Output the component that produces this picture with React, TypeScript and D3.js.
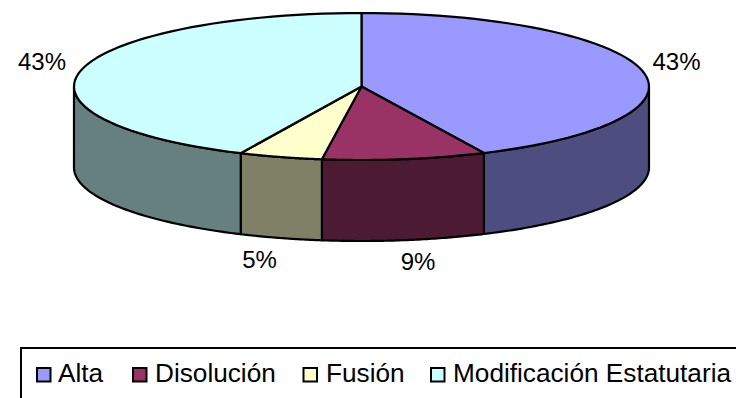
import React from "react";
import * as d3 from "d3";

const categories = ["Alta", "Disolución", "Fusión", "Modificación Estatutaria"];
const values = [43, 9.2, 4.7, 43.1];
const labels = ["43%", "9%", "5%", "43%"];
const topColors = ["#9999FF", "#993366", "#FFFFCC", "#CCFFFF"];
const sideColors = ["#4D4D80", "#4D1A33", "#808066", "#668080"];
const labelPos: [number, number][] = [[676.5, 70], [418, 270], [259.5, 268], [42, 70]];
const legendX = [37, 133, 303.5, 431];
const legendTextX = [58, 155, 326, 453];

const cx = 361.5, cy = 86.5, rx = 287.5, ry = 73.5, depth = 81;
const px = (a: number) => cx + rx * Math.sin(a);
const py = (a: number) => cy - ry * Math.cos(a);

const line = d3.line<[number, number]>();
const arcPts = (a0: number, a1: number, dy = 0): [number, number][] =>
  d3.range(0, 61).map((i) => {
    const a = a0 + ((a1 - a0) * i) / 60;
    return [px(a), py(a) + dy] as [number, number];
  });

export default function App() {
  const arcs = d3.pie<number>().sort(null)(values);
  const font = "'Liberation Sans', Arial, sans-serif";
  return (
    <svg width={736} height={398} style={{ position: "absolute", left: 0, top: 0, background: "#fff" }}>
      {arcs.map((d, i) => {
        const a0 = Math.max(d.startAngle, Math.PI / 2);
        const a1 = Math.min(d.endAngle, (3 * Math.PI) / 2);
        if (a0 >= a1) return null;
        const pts = [...arcPts(a0, a1), ...arcPts(a0, a1, depth).reverse()];
        return <path key={i} d={line(pts) + "Z"} fill={sideColors[i]} stroke="#000" strokeWidth={2.2} strokeLinejoin="round" />;
      })}
      {arcs.map((d, i) => {
        const pts: [number, number][] = [[cx, cy], ...arcPts(d.startAngle, d.endAngle)];
        return <path key={i} d={line(pts) + "Z"} fill={topColors[i]} stroke="#000" strokeWidth={2.2} strokeLinejoin="round" />;
      })}
      {labels.map((t, i) => (
        <text key={i} x={labelPos[i][0]} y={labelPos[i][1]} textAnchor="middle" fontFamily={font} fontSize={24} fill="#000">{t}</text>
      ))}
      <rect x={21} y={348} width={730} height={70} fill="#fff" stroke="#000" strokeWidth={2} />
      {categories.map((c, i) => (
        <g key={c}>
          <rect x={legendX[i]} y={368} width={13.5} height={13.5} fill={topColors[i]} stroke="#000" strokeWidth={2} />
          <text x={legendTextX[i]} y={381.5} fontFamily={font} fontSize={26.2} fill="#000">{c}</text>
        </g>
      ))}
    </svg>
  );
}
